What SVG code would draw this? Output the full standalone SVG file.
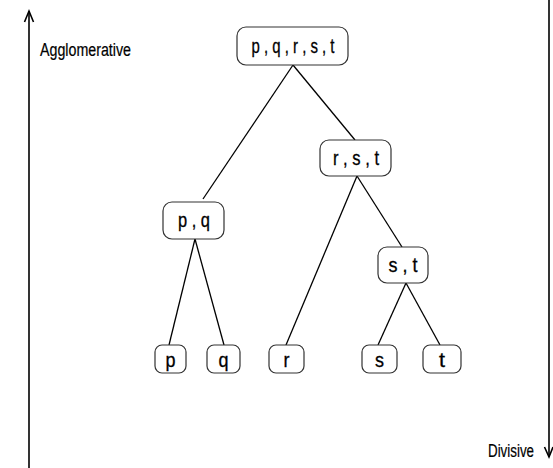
<svg xmlns="http://www.w3.org/2000/svg" width="553" height="468" viewBox="0 0 553 468">
<style>
.box{fill:#fff;stroke:#333;stroke-width:1.2}
.lbl{font-family:"Liberation Sans",Arial,sans-serif;font-size:20px;fill:#000;text-anchor:middle;stroke:#000;stroke-width:0.3}
.ax{font-family:"Liberation Sans",Arial,sans-serif;font-size:18px;fill:#000;stroke:#000;stroke-width:0.2}
.ln{stroke:#000;stroke-width:1.3;fill:none}
.arr{stroke:#000;stroke-width:1.6;fill:none}
</style>
<rect width="553" height="468" fill="#fff"/>
<g id="axes">
<line class="arr" x1="29" y1="11" x2="29" y2="468"/>
<polyline class="arr" points="24.5,22 29,11 33.5,22"/>
<text class="ax" x="40" y="56" textLength="91" lengthAdjust="spacingAndGlyphs">Agglomerative</text>
<line class="arr" x1="549" y1="0" x2="549" y2="457"/>
<polyline class="arr" points="544.5,447 549,457 553,447"/>
<text class="ax" x="488" y="457" textLength="46" lengthAdjust="spacingAndGlyphs">Divisive</text>
</g>
<g id="connectors">
<line class="ln" x1="293" y1="65" x2="203" y2="199"/>
<line class="ln" x1="293" y1="65" x2="355" y2="140"/>
<line class="ln" x1="357" y1="176" x2="286" y2="345"/>
<line class="ln" x1="357" y1="176" x2="402" y2="247"/>
<line class="ln" x1="195" y1="239" x2="169" y2="345"/>
<line class="ln" x1="195" y1="239" x2="224" y2="345"/>
<line class="ln" x1="406" y1="283" x2="378" y2="345"/>
<line class="ln" x1="406" y1="283" x2="440" y2="345"/>
</g>
<g id="n-pqrst"><rect class="box" x="237" y="27" width="111" height="38" rx="9"/><text class="lbl" x="293" y="53" textLength="83" lengthAdjust="spacingAndGlyphs">p , q , r , s , t</text></g>
<g id="n-rst"><rect class="box" x="320" y="140" width="71" height="36" rx="9"/><text class="lbl" x="356" y="165" textLength="46" lengthAdjust="spacingAndGlyphs">r , s , t</text></g>
<g id="n-pq"><rect class="box" x="163" y="202" width="61" height="37" rx="9"/><text class="lbl" x="194" y="227" textLength="32" lengthAdjust="spacingAndGlyphs">p , q</text></g>
<g id="n-st"><rect class="box" x="378" y="247" width="50" height="36" rx="9"/><text class="lbl" x="403" y="272" textLength="29" lengthAdjust="spacingAndGlyphs">s , t</text></g>
<g id="n-p"><rect class="box" x="155" y="345" width="31" height="28" rx="7"/><text class="lbl" x="170.5" y="367" textLength="10" lengthAdjust="spacingAndGlyphs">p</text></g>
<g id="n-q"><rect class="box" x="207" y="345" width="33" height="28" rx="7"/><text class="lbl" x="223.5" y="367" textLength="10" lengthAdjust="spacingAndGlyphs">q</text></g>
<g id="n-r"><rect class="box" x="269" y="345" width="35" height="28" rx="7"/><text class="lbl" x="286.5" y="367" textLength="6" lengthAdjust="spacingAndGlyphs">r</text></g>
<g id="n-s"><rect class="box" x="362" y="345" width="35" height="28" rx="7"/><text class="lbl" x="379.5" y="367" textLength="9" lengthAdjust="spacingAndGlyphs">s</text></g>
<g id="n-t"><rect class="box" x="423" y="345" width="38" height="28" rx="7"/><text class="lbl" x="442" y="367" textLength="6" lengthAdjust="spacingAndGlyphs">t</text></g>
</svg>
